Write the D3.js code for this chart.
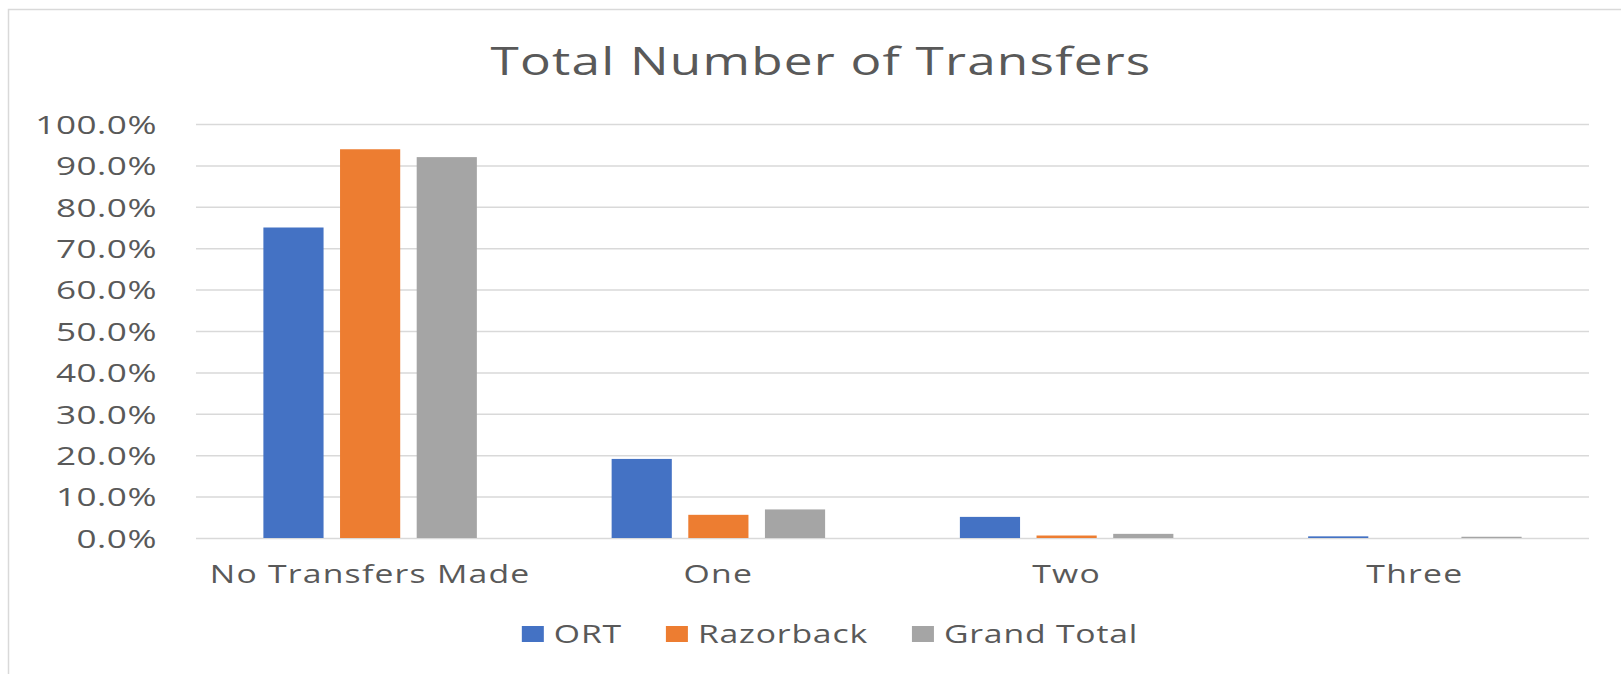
<!DOCTYPE html>
<html>
<head>
<meta charset="utf-8">
<script src="https://cdn.jsdelivr.net/npm/d3@7"></script>
<style>
  html, body { margin: 0; padding: 0; background: #fff; overflow: hidden; }
  svg { display: block; font-family: "Open Sans", "Noto Sans", sans-serif; }
</style>
</head>
<body>
<div id="chart"></div>
<script>
// data
var categories = ["No Transfers Made", "One", "Two", "Three"];
var seriesNames = ["ORT", "Razorback", "Grand Total"];
var ort = [0.750, 0.191, 0.051, 0.004];
var razorback = [0.939, 0.056, 0.006, 0.000];
var grandTotal = [0.920, 0.069, 0.010, 0.003];
var yTicks = [0, 0.1, 0.2, 0.3, 0.4, 0.5, 0.6, 0.7, 0.8, 0.9, 1.0];

var colors = ["#4472C4", "#ED7D31", "#A5A5A5"];
var textColor = "#595959";
var gridColor = "#D9D9D9";

var width = 1621, height = 674;
// the source picture is stretched sideways, so text is too
var sx = 1.35;

var plot = { left: 196, right: 1589, top: 124, bottom: 538 };
var chartCenter = 821;
var legendCenter = 830;

var seriesValues = [ort, razorback, grandTotal];
var rows = categories.map(function(c, i) {
  return {
    category: c,
    values: seriesNames.map(function(s, j) { return { key: s, value: seriesValues[j][i] }; })
  };
});

var svg = d3.select("#chart").append("svg")
  .attr("width", width)
  .attr("height", height);

// chart area border (runs off the right and bottom edge)
svg.append("rect")
  .attr("x", 8.5).attr("y", 9.5)
  .attr("width", 1640).attr("height", 700)
  .attr("fill", "#fff")
  .attr("stroke", gridColor)
  .attr("stroke-width", 1.5);

var x0 = d3.scaleBand()
  .domain(categories)
  .range([plot.left, plot.right])
  .paddingInner(0.387)
  .paddingOuter(0.1935);

var x1 = d3.scaleBand()
  .domain(seriesNames)
  .range([0, x0.bandwidth()])
  .paddingInner(0.215);

var y = d3.scaleLinear()
  .domain([0, 1])
  .range([plot.bottom, plot.top]);

// y axis with gridlines
var yAxis = svg.append("g")
  .attr("transform", "translate(" + plot.left + ",0)")
  .call(d3.axisLeft(y)
    .tickValues(yTicks)
    .tickSize(-(plot.right - plot.left))
    .tickPadding(0)
    .tickFormat(d3.format(".1%")));

yAxis.select(".domain").remove();
yAxis.selectAll(".tick line")
  .attr("stroke", gridColor)
  .attr("stroke-width", 1.5);
yAxis.selectAll(".tick text")
  .attr("x", -39 / sx)
  .attr("dy", "0.36em")
  .attr("transform", "scale(" + sx + ",1)")
  .style("font-size", "26px")
  .style("letter-spacing", "0.4px")
  .style("font-family", "\"Open Sans\", sans-serif")
  .attr("fill", textColor);

// bars
var groups = svg.append("g").selectAll("g")
  .data(rows)
  .enter().append("g")
  .attr("transform", function(d) { return "translate(" + x0(d.category) + ",0)"; });

groups.selectAll("rect")
  .data(function(d) { return d.values; })
  .enter().append("rect")
  .attr("x", function(d) { return x1(d.key); })
  .attr("y", function(d) { return y(d.value); })
  .attr("width", x1.bandwidth())
  .attr("height", function(d) { return y(0) - y(d.value); })
  .attr("fill", function(d, i) { return colors[i]; });

// category labels
svg.append("g").selectAll("text")
  .data(categories)
  .enter().append("text")
  .attr("transform", function(d) {
    return "translate(" + (x0(d) + x0.bandwidth() / 2) + ",583) scale(" + sx + ",1)";
  })
  .attr("text-anchor", "middle")
  .style("font-size", "25px")
  .style("letter-spacing", "0.9px")
  .attr("fill", textColor)
  .text(function(d) { return d; });

// title
svg.append("text")
  .attr("transform", "translate(" + chartCenter + ",75) scale(" + sx + ",1)")
  .attr("text-anchor", "middle")
  .style("font-size", "38px")
  .style("letter-spacing", "0.9px")
  .attr("fill", textColor)
  .text("Total Number of Transfers");

// legend, laid out from measured text and centred
var legend = svg.append("g");
var cursor = 0;
seriesNames.forEach(function(name, i) {
  var item = legend.append("g").attr("transform", "translate(" + cursor + ",0)");
  item.append("rect")
    .attr("x", 0).attr("y", -8)
    .attr("width", 22).attr("height", 16)
    .attr("fill", colors[i]);
  var t = item.append("text")
    .attr("transform", "translate(32,9) scale(" + sx + ",1)")
    .style("font-size", "25px")
    .style("letter-spacing", "0.6px")
    .attr("fill", textColor)
    .text(name);
  var w = t.node().getComputedTextLength() * sx;
  cursor += 32 + w + 44;
});
var legendWidth = cursor - 44;
legend.attr("transform", "translate(" + (legendCenter - legendWidth / 2) + ",634)");
</script>
</body>
</html>
